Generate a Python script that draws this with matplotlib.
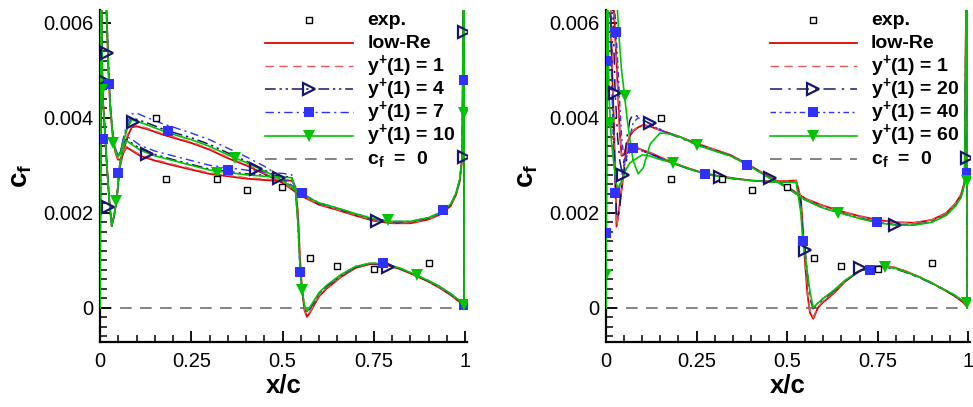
import numpy as np
import matplotlib
matplotlib.use("Agg")
import matplotlib.pyplot as plt
from matplotlib.lines import Line2D
from matplotlib.ticker import MultipleLocator, FuncFormatter

plt.rcParams["font.family"] = ["Liberation Sans", "DejaVu Sans"]
plt.rcParams["mathtext.fontset"] = "custom"
plt.rcParams["mathtext.rm"] = "Liberation Sans"
plt.rcParams["mathtext.bf"] = "Liberation Sans:bold"
plt.rcParams["mathtext.default"] = "bf"

# skin friction values are given in units of 1e-3
# experiment (same points in both panels)
exp_x = [0.153, 0.18, 0.32, 0.403, 0.499, 0.574, 0.65, 0.75, 0.90]
exp_cf = [3.99, 2.71, 2.72, 2.48, 2.54, 1.04, 0.88, 0.82, 0.95]

# ---- left panel: low-Re model vs wall functions, y+(1) = 1, 4, 7, 10 ----
# upper branch runs LE -> TE, lower branch TE -> LE
L_x_up = [0.000, 0.003, 0.010, 0.018, 0.023, 0.028, 0.035, 0.042, 0.049, 0.056,
          0.064, 0.075, 0.087, 0.10, 0.13, 0.17, 0.21, 0.25, 0.30, 0.35,
          0.40, 0.45, 0.50, 0.55, 0.60, 0.65, 0.70, 0.75, 0.80, 0.85,
          0.90, 0.93, 0.96, 0.975, 0.985, 0.992, 0.997]
L_x_lo = [0.997, 0.985, 0.96, 0.93, 0.90, 0.86, 0.82, 0.78, 0.74, 0.70,
          0.66, 0.62, 0.60, 0.585, 0.575, 0.567, 0.56, 0.553, 0.548, 0.542,
          0.535, 0.525, 0.50, 0.45, 0.40, 0.35, 0.30, 0.25, 0.20, 0.15,
          0.11, 0.085, 0.073, 0.063, 0.054, 0.046, 0.039, 0.032, 0.025, 0.018,
          0.012, 0.007, 0.003, 0.000]

L_up_lowre = [0.0, 12.0, 8.5, 6.2, 5.0, 4.2, 3.6, 3.28, 3.12, 3.12,
              3.3, 3.6, 3.8, 3.82, 3.76, 3.65, 3.56, 3.47, 3.33, 3.15,
              3.0, 2.82, 2.63, 2.36, 2.17, 2.06, 1.94, 1.83, 1.78, 1.78,
              1.86, 1.96, 2.14, 2.38, 2.66, 3.15, 9.0]
L_lo_lowre = [0.02, 0.12, 0.27, 0.42, 0.55, 0.69, 0.82, 0.91, 0.92, 0.84,
              0.65, 0.4, 0.24, 0.04, -0.1, -0.19, -0.05, 0.4, 1.0, 2.0,
              2.55, 2.68, 2.67, 2.69, 2.72, 2.77, 2.82, 2.91, 3.0, 3.1,
              3.2, 3.32, 3.38, 3.25, 2.95, 2.3, 1.95, 1.72, 2.3, 3.1,
              3.9, 4.5, 7.0, 0.0]

L_up_y1 = [0.0, 12.0, 8.5, 6.2, 5.0, 4.2, 3.6, 3.29, 3.14, 3.15,
           3.34, 3.64, 3.83, 3.84, 3.78, 3.67, 3.58, 3.49, 3.35, 3.17,
           3.02, 2.84, 2.64, 2.37, 2.18, 2.07, 1.95, 1.84, 1.79, 1.79,
           1.87, 1.97, 2.15, 2.39, 2.67, 3.16, 9.0]
L_lo_y1 = [0.03, 0.13, 0.28, 0.43, 0.56, 0.7, 0.83, 0.92, 0.93, 0.85,
           0.66, 0.42, 0.26, 0.06, -0.08, -0.17, -0.03, 0.4, 1.0, 2.0,
           2.56, 2.7, 2.69, 2.71, 2.74, 2.79, 2.84, 2.93, 3.02, 3.12,
           3.22, 3.34, 3.4, 3.27, 2.96, 2.3, 1.95, 1.72, 2.3, 3.1,
           3.9, 4.5, 7.0, 0.0]

L_up_y4 = [0.0, 12.0, 8.6, 6.3, 5.2, 4.3, 3.68, 3.34, 3.2, 3.28,
           3.54, 3.82, 3.99, 3.97, 3.89, 3.77, 3.67, 3.58, 3.44, 3.26,
           3.09, 2.9, 2.7, 2.4, 2.2, 2.09, 1.97, 1.86, 1.81, 1.81,
           1.89, 1.99, 2.17, 2.41, 2.69, 3.19, 9.0]
L_lo_y4 = [0.04, 0.14, 0.29, 0.44, 0.56, 0.7, 0.83, 0.92, 0.93, 0.86,
           0.68, 0.45, 0.3, 0.11, -0.01, -0.1, 0.02, 0.36, 0.8, 1.8,
           2.5, 2.75, 2.77, 2.79, 2.82, 2.87, 2.92, 3.02, 3.12, 3.23,
           3.35, 3.48, 3.55, 3.4, 3.0, 2.3, 1.95, 1.72, 2.3, 3.1,
           3.9, 4.5, 7.0, 0.0]

L_up_y7 = [0.0, 12.0, 8.6, 6.3, 5.1, 4.3, 3.7, 3.36, 3.22, 3.3,
           3.58, 3.9, 4.08, 4.1, 4.0, 3.88, 3.78, 3.68, 3.54, 3.36,
           3.18, 2.98, 2.74, 2.42, 2.21, 2.1, 1.98, 1.87, 1.82, 1.82,
           1.9, 2.0, 2.18, 2.42, 2.7, 3.2, 9.0]
L_lo_y7 = [0.05, 0.15, 0.3, 0.45, 0.57, 0.71, 0.84, 0.93, 0.94, 0.87,
           0.69, 0.46, 0.31, 0.12, 0.0, -0.08, 0.04, 0.38, 0.78, 1.8,
           2.5, 2.8, 2.83, 2.86, 2.9, 2.95, 3.0, 3.1, 3.2, 3.3,
           3.42, 3.56, 3.6, 3.42, 3.02, 2.3, 1.95, 1.72, 2.3, 3.1,
           3.9, 4.5, 7.0, 0.0]

L_up_y10 = [0.0, 12.0, 8.5, 6.2, 5.05, 4.25, 3.65, 3.32, 3.18, 3.25,
            3.5, 3.78, 3.96, 3.93, 3.85, 3.73, 3.63, 3.54, 3.4, 3.22,
            3.06, 2.88, 2.68, 2.4, 2.21, 2.1, 1.98, 1.87, 1.82, 1.82,
            1.9, 2.0, 2.18, 2.42, 2.7, 3.2, 9.0]
L_lo_y10 = [0.05, 0.15, 0.3, 0.45, 0.57, 0.71, 0.84, 0.93, 0.94, 0.87,
            0.7, 0.47, 0.32, 0.14, 0.02, -0.07, 0.05, 0.38, 0.8, 1.8,
            2.5, 2.74, 2.75, 2.77, 2.8, 2.85, 2.9, 3.0, 3.1, 3.2,
            3.32, 3.45, 3.52, 3.38, 3.0, 2.3, 1.95, 1.72, 2.3, 3.1,
            3.9, 4.5, 7.0, 0.0]

# symbol positions along the curves
L_mk_y4_x = [0.018, 0.005, 0.022, 0.091, 0.128, 0.427, 0.49, 0.758, 0.79, 0.997, 0.997]
L_mk_y4_cf = [5.36, 4.8, 2.13, 3.92, 3.24, 2.93, 2.73, 1.82, 0.86, 5.8, 3.17]
L_mk_y7_x = [0.009, 0.025, 0.05, 0.185, 0.351, 0.553, 0.548, 0.776, 0.94, 0.997, 0.997]
L_mk_y7_cf = [3.56, 4.71, 2.84, 3.72, 2.9, 2.41, 0.76, 0.95, 2.06, 4.8, 0.05]
L_mk_y10_x = [0.005, 0.036, 0.044, 0.37, 0.32, 0.553, 0.79, 0.868, 0.997, 0.997]
L_mk_y10_cf = [4.59, 3.47, 2.24, 3.16, 2.84, 0.38, 1.85, 0.69, 4.1, 0.05]

# ---- right panel: y+(1) = 1, 20, 40, 60 ----
R_x_up = [0.000, 0.003, 0.010, 0.018, 0.025, 0.032, 0.038, 0.043, 0.050, 0.058,
          0.066, 0.075, 0.089, 0.103, 0.122, 0.149, 0.177, 0.204, 0.25, 0.30,
          0.343, 0.39, 0.45, 0.50, 0.55, 0.60, 0.65, 0.70, 0.75, 0.80,
          0.85, 0.90, 0.94, 0.965, 0.98, 0.99, 0.997]
R_x_lo = [0.997, 0.985, 0.96, 0.94, 0.90, 0.867, 0.83, 0.80, 0.766, 0.73,
          0.70, 0.66, 0.628, 0.60, 0.585, 0.572, 0.563, 0.556, 0.55, 0.544,
          0.538, 0.525, 0.50, 0.453, 0.40, 0.35, 0.315, 0.273, 0.23, 0.186,
          0.15, 0.12, 0.10, 0.085, 0.075, 0.066, 0.058, 0.052, 0.045, 0.039,
          0.034, 0.029, 0.022, 0.015, 0.008, 0.003, 0.000]

R_up_lowre = [0.0, 12.0, 9.5, 6.8, 5.8, 4.7, 3.7, 3.2, 3.22, 3.45,
              3.62, 3.72, 3.8, 3.85, 3.82, 3.74, 3.67, 3.6, 3.46, 3.33,
              3.22, 3.03, 2.76, 2.55, 2.3, 2.15, 2.03, 1.93, 1.85, 1.8,
              1.79, 1.85, 2.0, 2.2, 2.38, 2.65, 9.0]
R_lo_lowre = [0.02, 0.12, 0.26, 0.35, 0.52, 0.64, 0.76, 0.84, 0.89, 0.86,
              0.78, 0.55, 0.3, 0.12, 0.0, -0.23, -0.1, 0.3, 0.9, 1.6,
              2.3, 2.68, 2.67, 2.66, 2.68, 2.73, 2.77, 2.83, 2.93, 3.05,
              3.17, 3.27, 3.32, 3.37, 3.38, 3.4, 3.3, 3.12, 2.6, 2.27,
              1.95, 1.71, 3.8, 5.5, 8.0, 11.0, 0.0]

R_up_y1 = [0.0, 12.0, 9.5, 6.8, 5.8, 4.7, 3.72, 3.22, 3.24, 3.47,
           3.64, 3.74, 3.81, 3.85, 3.82, 3.74, 3.67, 3.6, 3.46, 3.33,
           3.22, 3.03, 2.76, 2.55, 2.3, 2.15, 2.03, 1.93, 1.85, 1.8,
           1.79, 1.85, 2.0, 2.2, 2.38, 2.65, 9.0]
R_lo_y1 = [0.03, 0.13, 0.27, 0.36, 0.53, 0.65, 0.77, 0.85, 0.89, 0.86,
           0.78, 0.56, 0.32, 0.14, 0.02, -0.2, -0.08, 0.3, 0.9, 1.6,
           2.3, 2.68, 2.67, 2.66, 2.68, 2.73, 2.77, 2.83, 2.93, 3.05,
           3.17, 3.27, 3.32, 3.37, 3.38, 3.4, 3.3, 3.12, 2.6, 2.27,
           1.95, 1.73, 3.8, 5.5, 8.0, 11.0, 0.0]

R_up_y20 = [0.0, 12.0, 9.0, 6.5, 4.6, 3.6, 3.1, 2.9, 3.1, 3.6,
            3.95, 4.08, 4.02, 3.95, 3.88, 3.76, 3.66, 3.58, 3.44, 3.31,
            3.2, 3.01, 2.74, 2.53, 2.27, 2.1, 1.99, 1.89, 1.8, 1.75,
            1.75, 1.81, 1.96, 2.15, 2.33, 2.6, 9.0]
R_lo_y20 = [0.04, 0.14, 0.27, 0.35, 0.51, 0.63, 0.74, 0.82, 0.86, 0.84,
            0.77, 0.57, 0.35, 0.18, 0.08, -0.02, 0.2, 0.7, 1.22, 1.5,
            2.2, 2.64, 2.65, 2.65, 2.68, 2.72, 2.76, 2.82, 2.92, 3.04,
            3.15, 3.25, 3.3, 3.35, 3.36, 3.3, 3.15, 2.95, 2.65, 2.2,
            1.9, 2.0, 3.5, 5.5, 8.0, 11.0, 0.0]

R_up_y40 = [0.0, 12.0, 9.0, 7.5, 6.2, 5.2, 4.3, 3.6, 3.1, 3.2,
            3.6, 3.9, 4.0, 3.95, 3.86, 3.75, 3.66, 3.59, 3.45, 3.31,
            3.21, 3.02, 2.74, 2.53, 2.27, 2.1, 1.99, 1.89, 1.8, 1.75,
            1.75, 1.81, 1.96, 2.15, 2.33, 2.6, 9.0]
R_lo_y40 = [0.05, 0.15, 0.28, 0.36, 0.52, 0.63, 0.74, 0.82, 0.86, 0.83,
            0.77, 0.57, 0.36, 0.2, 0.1, 0.0, 0.3, 0.75, 1.1, 1.4,
            2.1, 2.64, 2.65, 2.65, 2.68, 2.72, 2.76, 2.82, 2.92, 3.04,
            3.15, 3.25, 3.3, 3.35, 3.36, 3.3, 3.2, 3.05, 2.85, 2.6,
            2.38, 2.4, 3.0, 5.0, 7.0, 9.0, 0.0]

R_up_y60 = [0.0, 12.0, 10.0, 8.5, 7.2, 6.2, 5.5, 5.0, 4.55, 4.0,
            3.54, 3.1, 2.82, 2.95, 3.45, 3.68, 3.66, 3.6, 3.43, 3.3,
            3.2, 3.01, 2.74, 2.53, 2.27, 2.1, 1.99, 1.88, 1.79, 1.74,
            1.74, 1.8, 1.95, 2.14, 2.32, 2.6, 9.0]
R_lo_y60 = [0.05, 0.15, 0.28, 0.36, 0.52, 0.64, 0.75, 0.83, 0.87, 0.84,
            0.78, 0.58, 0.36, 0.2, 0.1, 0.0, 0.35, 0.75, 1.1, 1.35,
            2.0, 2.64, 2.65, 2.65, 2.68, 2.72, 2.76, 2.82, 2.92, 3.05,
            3.12, 3.2, 3.22, 3.15, 3.1, 3.05, 2.95, 2.85, 2.7, 2.6,
            2.52, 2.6, 3.0, 3.5, 4.5, 8.0, 0.0]

R_mk_y20_x = [0.025, 0.048, 0.122, 0.315, 0.453, 0.55, 0.70, 0.798, 0.998]
R_mk_y20_cf = [4.52, 2.8, 3.89, 2.76, 2.73, 1.22, 0.84, 1.75, 3.15]
R_mk_y40_x = [0.004, 0.028, 0.0, 0.025, 0.075, 0.273, 0.389, 0.544, 0.729, 0.748, 0.998]
R_mk_y40_cf = [5.19, 5.8, 1.58, 2.41, 3.37, 2.82, 3.01, 1.4, 0.79, 1.8, 2.84]
R_mk_y60_x = [0.0, 0.011, 0.052, 0.186, 0.25, 0.641, 0.77, 0.998, 0.998]
R_mk_y60_cf = [0.7, 3.89, 4.46, 3.05, 3.43, 2.0, 0.86, 2.66, 0.1]

zero_x = [0.0, 1.0]
zero_cf = [0.0, 0.0]

RED = "#e00000"
RED_D = "#e35a5a"
NAVY = "#16166e"
BLUE = "#3030ff"
GREEN = "#00c400"
GREY = "#6e6e6e"

DASHDOTDOT = (0, (7, 2.5, 1.5, 2.5, 1.5, 2.5))
DASHDOT = (0, (6, 3, 1.5, 3))
DASHDOT_LONG = (0, (8, 4, 1.5, 4))
DASHDOT_SHORT = (0, (4, 2.5, 1.5, 2.5))

AX_H_PX = 332.0  # axes height in pixels, used for the key layout


def cf(vals):
    return np.asarray(vals) * 1e-3


def loop(x_up, x_lo, y_up, y_lo):
    return np.r_[x_up, x_lo], cf(np.r_[y_up, y_lo])


def style_axes(ax):
    for side in ("top", "right"):
        ax.spines[side].set_visible(False)
    for side in ("left", "bottom"):
        ax.spines[side].set_linewidth(1.6)
    ax.set_xlim(0, 1.005)
    ax.set_ylim(-0.00072, 0.00627)
    ax.set_xticks([0, 0.25, 0.5, 0.75, 1.0])
    ax.set_yticks([0, 0.002, 0.004, 0.006])
    ax.xaxis.set_minor_locator(MultipleLocator(0.05))
    ax.yaxis.set_minor_locator(MultipleLocator(0.0002))
    fmt = FuncFormatter(lambda v, _: f"{v:g}")
    ax.xaxis.set_major_formatter(fmt)
    ax.yaxis.set_major_formatter(fmt)
    ax.tick_params(which="major", direction="in", length=8, width=1.3,
                   labelsize=14.5, top=False, right=False)
    ax.tick_params(which="minor", direction="in", length=5, width=1.1,
                   top=False, right=False)
    ax.tick_params(axis="x", pad=7)
    ax.tick_params(axis="y", pad=5)
    ax.set_xlabel("x/c", fontsize=18.5, fontweight="bold")
    ax.set_ylabel(r"c$_{f}$", fontsize=20, fontweight="bold")
    ax.xaxis.set_label_coords(0.5, -0.095)
    ax.yaxis.set_label_coords(-0.18, 0.5)


def draw_key(ax, entries, labels):
    # Tecplot-like key: evenly spaced rows, line sample then bold label
    x0, x1, xt = 0.45, 0.69, 0.728
    top_px, step_px = 10.0, 23.1   # row centres below the axes top
    for i, (style, label) in enumerate(zip(entries, labels)):
        yc = 1.0 - (top_px + i * step_px) / AX_H_PX
        ax.add_line(Line2D([x0, x1], [yc, yc], transform=ax.transAxes,
                           clip_on=False, zorder=10,
                           **{k: v for k, v in style.items() if k not in
                              ("marker", "ms", "mfc", "mec", "mew")}))
        if "marker" in style:
            ax.add_line(Line2D([0.5 * (x0 + x1)], [yc], transform=ax.transAxes,
                               clip_on=False, zorder=11, ls="none",
                               marker=style["marker"], ms=style["ms"],
                               mfc=style["mfc"], mec=style["mec"],
                               mew=style["mew"]))
        ax.text(xt, yc - 5.0 / AX_H_PX, label, transform=ax.transAxes,
                fontsize=14, fontweight="bold", va="baseline", ha="left",
                zorder=11)


def draw_panel(ax, x_up, x_lo, series, markers, key_labels, key_marks):
    ax.plot(zero_x, cf(zero_cf), color=GREY, dashes=(7, 5), lw=1.2, zorder=1)
    ax.plot(exp_x, cf(exp_cf), ls="none", marker="s", ms=5, mfc="white",
            mec="black", mew=1.0, zorder=6)
    for (y_up, y_lo), style in series:
        x, y = loop(x_up, x_lo, y_up, y_lo)
        ax.plot(x, y, zorder=3, **style)
    for (mx, my), mstyle in markers:
        ax.plot(mx, cf(my), ls="none", zorder=5, **mstyle)

    entries = [dict(ls="none", marker="s", ms=5, mfc="white", mec="black",
                    mew=1.0)]
    for (_, style), extra in zip(series, key_marks):
        entries.append({**style, **extra})
    entries.append(dict(color=GREY, dashes=(7, 5), lw=1.2))
    draw_key(ax, entries, key_labels)
    style_axes(ax)


tri_navy = dict(marker=">", ms=8, mfc="none", mec=NAVY, mew=1.6)
sq_blue = dict(marker="s", ms=6.5, mfc=BLUE, mec=BLUE, mew=0)
tri_green = dict(marker="v", ms=8, mfc=GREEN, mec=GREEN, mew=0)

fig = plt.figure(figsize=(9.73, 4.07), dpi=100)
ax1 = fig.add_axes([100 / 973, 65 / 407, 367 / 973, AX_H_PX / 407])
ax2 = fig.add_axes([606 / 973, 65 / 407, 364 / 973, AX_H_PX / 407])

left_series = [
    ((L_up_lowre, L_lo_lowre), dict(color=RED, lw=1.3)),
    ((L_up_y1, L_lo_y1), dict(color=RED_D, lw=1.0, ls=(0, (6, 4)))),
    ((L_up_y4, L_lo_y4), dict(color=NAVY, lw=1.1, ls=DASHDOTDOT)),
    ((L_up_y7, L_lo_y7), dict(color=BLUE, lw=1.0, ls=DASHDOT)),
    ((L_up_y10, L_lo_y10), dict(color=GREEN, lw=1.2)),
]
left_markers = [
    ((L_mk_y4_x, L_mk_y4_cf), tri_navy),
    ((L_mk_y7_x, L_mk_y7_cf), sq_blue),
    ((L_mk_y10_x, L_mk_y10_cf), tri_green),
]
left_labels = ["exp.", "low-Re", r"y$^{+}$(1) = 1", r"y$^{+}$(1) = 4",
               r"y$^{+}$(1) = 7", r"y$^{+}$(1) = 10", r"c$_{f}$  =  0"]
key_marks = [{}, {}, tri_navy, sq_blue, tri_green]
draw_panel(ax1, L_x_up, L_x_lo, left_series, left_markers, left_labels, key_marks)

right_series = [
    ((R_up_lowre, R_lo_lowre), dict(color=RED, lw=1.3)),
    ((R_up_y1, R_lo_y1), dict(color=RED_D, lw=1.0, ls=(0, (6, 4)))),
    ((R_up_y20, R_lo_y20), dict(color=NAVY, lw=1.1, ls=DASHDOT_LONG)),
    ((R_up_y40, R_lo_y40), dict(color=BLUE, lw=1.0, ls=DASHDOT_SHORT)),
    ((R_up_y60, R_lo_y60), dict(color=GREEN, lw=1.2)),
]
right_markers = [
    ((R_mk_y20_x, R_mk_y20_cf), tri_navy),
    ((R_mk_y40_x, R_mk_y40_cf), sq_blue),
    ((R_mk_y60_x, R_mk_y60_cf), tri_green),
]
right_labels = ["exp.", "low-Re", r"y$^{+}$(1) = 1", r"y$^{+}$(1) = 20",
                r"y$^{+}$(1) = 40", r"y$^{+}$(1) = 60", r"c$_{f}$  =  0"]
draw_panel(ax2, R_x_up, R_x_lo, right_series, right_markers, right_labels, key_marks)

fig.savefig("out.png", dpi=100)
